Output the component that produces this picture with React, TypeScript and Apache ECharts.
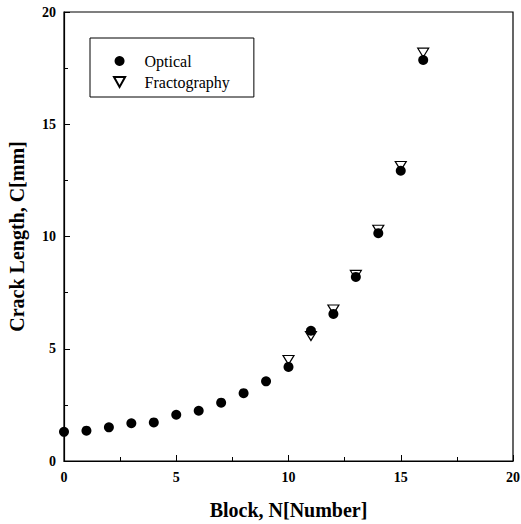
import React, { useEffect, useRef } from "react";
import * as echarts from "echarts";

const blocks = [0, 1, 2, 3, 4, 5, 6, 7, 8, 9, 10, 11, 12, 13, 14, 15, 16];
const optical = [1.3, 1.35, 1.5, 1.68, 1.72, 2.06, 2.24, 2.6, 3.02, 3.55, 4.19, 5.8, 6.55, 8.2, 10.15, 12.93, 17.86];
const fractoBlocks = [10, 11, 12, 13, 14, 15, 16];
const fracto = [4.5, 5.57, 6.75, 8.29, 10.3, 13.14, 18.19];
const xTicks = [0, 5, 10, 15, 20];
const yTicks = [0, 5, 10, 15, 20];

const font = "'Liberation Serif', 'Times New Roman', serif";
const downTriangle = "path://M0,0 L10,0 L5,9 Z";

export default function App() {
  const ref = useRef<HTMLDivElement>(null);
  useEffect(() => {
    if (!ref.current) return;
    const chart = echarts.init(ref.current, undefined, { renderer: "svg" });
    const axisCommon = {
      min: 0,
      max: 20,
      interval: 5,
      axisLine: { show: true, lineStyle: { color: "#000", width: 1.2 } },
      axisTick: { show: true, inside: true, length: 6, lineStyle: { color: "#000" } },
      minorTick: { show: true, splitNumber: 2, length: 4, lineStyle: { color: "#000" } },
      splitLine: { show: false },
      nameTextStyle: { fontFamily: font, fontWeight: "bold", fontSize: 20, color: "#000" },
      axisLabel: { fontFamily: font, fontWeight: "bold", fontSize: 14, color: "#000" },
    };
    chart.setOption({
      animation: false,
      backgroundColor: "#fff",
      grid: {
        left: 64,
        right: 8,
        top: 12,
        bottom: 63,
        containLabel: false,
        outerBoundsMode: "none",
        show: true,
        borderColor: "#000",
        borderWidth: 1.2,
      },
      xAxis: {
        ...axisCommon,
        type: "value",
        name: "Block, N[Number]",
        nameLocation: "middle",
        nameGap: 39,
        axisLabel: { ...axisCommon.axisLabel, margin: 9, formatter: (v: number) => (xTicks.includes(v) ? String(v) : "") },
      },
      yAxis: {
        ...axisCommon,
        type: "value",
        name: "Crack Length, C[mm]",
        nameLocation: "middle",
        nameGap: 37,
        axisLabel: { ...axisCommon.axisLabel, margin: 8, formatter: (v: number) => (yTicks.includes(v) ? String(v) : "") },
      },
      legend: {
        orient: "vertical",
        left: 90,
        top: 38,
        padding: [15, 24, 7, 23],
        borderColor: "#000",
        borderWidth: 1,
        itemWidth: 12,
        itemHeight: 10,
        itemGap: 5,
        textStyle: { fontFamily: font, fontSize: 16, lineHeight: 16, color: "#000", padding: [0, 0, 0, 14] },
        data: [
          { name: "Optical", icon: "circle" },
          { name: "Fractography", icon: downTriangle },
        ],
      },
      series: [
        {
          name: "Optical",
          type: "scatter",
          symbol: "circle",
          symbolSize: 10,
          itemStyle: { color: "#000", opacity: 1 },
          data: blocks.map((b, i) => [b, optical[i]]),
          z: 2,
        },
        {
          name: "Fractography",
          type: "scatter",
          symbol: downTriangle,
          symbolSize: [11, 9],
          itemStyle: { color: "rgba(255,255,255,0)", borderColor: "#000", borderWidth: 1.2, opacity: 1 },
          data: fractoBlocks.map((b, i) => [b, fracto[i]]),
          z: 3,
        },
      ],
    });
    return () => chart.dispose();
  }, []);
  return <div ref={ref} style={{ position: "absolute", left: 0, top: 0, width: 521, height: 524 }} />;
}
